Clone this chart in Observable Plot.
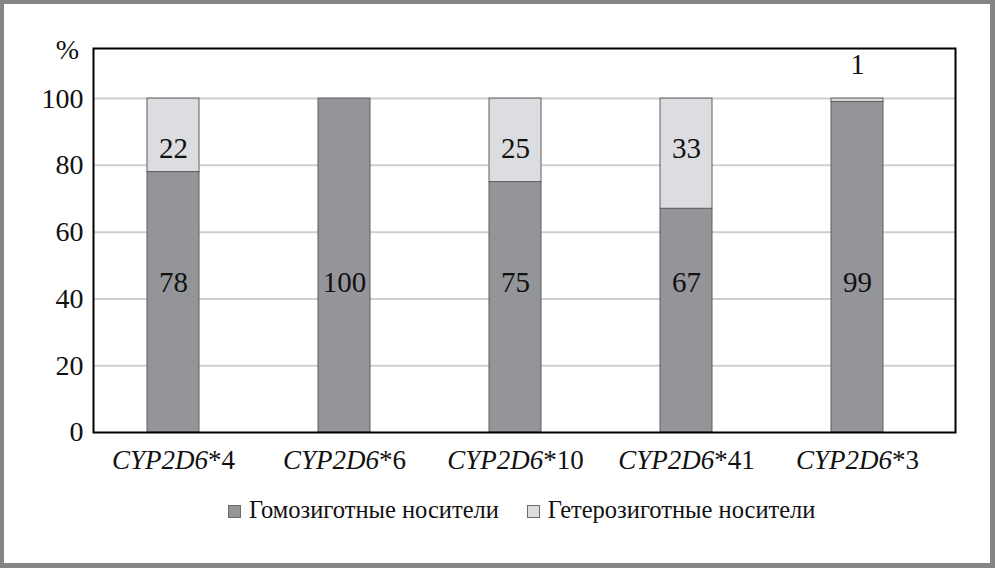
<!DOCTYPE html>
<html>
<head>
<meta charset="utf-8">
<script src="https://cdn.jsdelivr.net/npm/d3@7"></script>
<script src="https://cdn.jsdelivr.net/npm/@observablehq/plot@0.6"></script>
<style>
  html, body { margin: 0; padding: 0; background: #fff; }
  #wrap { position: relative; width: 995px; height: 568px; overflow: hidden; background: #fff; font-family: 'Liberation Serif', 'Times New Roman', Tinos, 'DejaVu Serif', 'Noto Serif', FreeSerif, serif; }
  #border { position: absolute; left: 0; top: 0; width: 995px; height: 568px; box-sizing: border-box; border: 4px solid #858585; border-right-width: 5px; border-bottom-width: 5px; pointer-events: none; }
  #chart { position: absolute; left: 0; top: 0; }
  #legend { position: absolute; left: 228px; top: 496px; display: flex; align-items: center; font-size: 24.5px; color: #111; white-space: nowrap; }
  .item { display: flex; align-items: center; margin-right: 28px; }
  .sw { width: 11px; height: 11px; border: 1px solid #6a6a6a; margin-right: 8px; margin-top: 2px; }
</style>
</head>
<body>
<div id="wrap">
  <div id="chart"></div>
  <div id="legend"></div>
  <div id="border"></div>
</div>
<script>
// Data
const categories = ["CYP2D6*4", "CYP2D6*6", "CYP2D6*10", "CYP2D6*41", "CYP2D6*3"];
const homozygous = [78, 100, 75, 67, 99];
const heterozygous = [22, 0, 25, 33, 1];
const seriesNames = ["Гомозиготные носители", "Гетерозиготные носители"];
const yTicks = [0, 20, 40, 60, 80, 100];

const colors = {dark: "#949599", light: "#dcdde0"};

const rows = [];
categories.forEach((c, i) => {
  rows.push({cat: c, series: seriesNames[0], value: homozygous[i]});
  rows.push({cat: c, series: seriesNames[1], value: heterozygous[i]});
});

const homLabels = categories.map((c, i) => ({cat: c, value: homozygous[i]}));
const hetLabels = categories.map((c, i) => ({cat: c, value: heterozygous[i], base: homozygous[i]})).filter(d => d.value > 0);

const font = "'Liberation Serif', 'Times New Roman', Tinos, 'DejaVu Serif', 'Noto Serif', FreeSerif, serif";

const plot = Plot.plot({
  width: 995,
  height: 480,
  marginLeft: 93,
  marginRight: 40,
  marginTop: 48,
  marginBottom: 48,
  style: {fontFamily: font, fontSize: "27px", background: "transparent", color: "#111"},
  x: {domain: categories, range: [86, 944], paddingInner: 0.697, paddingOuter: 0.3485, label: null},
  y: {domain: [0, 115], label: null},
  color: {domain: seriesNames, range: [colors.dark, colors.light]},
  marks: [
    Plot.ruleY([20, 40, 60, 80, 100], {stroke: "#cfcfcf", strokeWidth: 2}),
    Plot.barY(rows, {x: "cat", y: "value", fill: "series", stroke: "#5e5e5e", strokeWidth: 1, order: seriesNames}),
    Plot.text(homLabels, {x: "cat", y: () => 45, text: d => String(d.value), fontSize: 29, fill: "#111"}),
    Plot.text(hetLabels, {x: "cat", y: d => d.value >= 5 ? 85 : d.base + d.value + 10, text: d => String(d.value), fontSize: 29, fill: "#111"}),
    Plot.axisY({ticks: yTicks, tickSize: 0, tickPadding: 10, fontSize: 28, label: null}),
    Plot.axisX({tickSize: 0, tickPadding: 17, fontSize: 27, label: null}),
    Plot.text(["%"], {frameAnchor: "top-left", dx: -26, dy: 2, fontSize: 28, textAnchor: "middle", lineAnchor: "middle"}),
    Plot.frame({stroke: "#000", strokeWidth: 2})
  ]
});

document.getElementById("chart").appendChild(plot);

// Italicise gene name in x tick labels
d3.select(plot).selectAll('g[aria-label="x-axis tick label"] text').each(function() {
  const t = d3.select(this);
  const s = t.text();
  const k = s.indexOf("*");
  if (k < 0) return;
  t.text(null);
  t.append("tspan").attr("font-style", "italic").text(s.slice(0, k));
  t.append("tspan").text(s.slice(k));
});

// Legend
const legend = document.getElementById("legend");
seriesNames.forEach((name, i) => {
  const item = document.createElement("div");
  item.className = "item";
  const sw = document.createElement("span");
  sw.className = "sw";
  sw.style.background = i === 0 ? colors.dark : colors.light;
  const tx = document.createElement("span");
  tx.textContent = name;
  item.appendChild(sw);
  item.appendChild(tx);
  legend.appendChild(item);
});
</script>
</body>
</html>
